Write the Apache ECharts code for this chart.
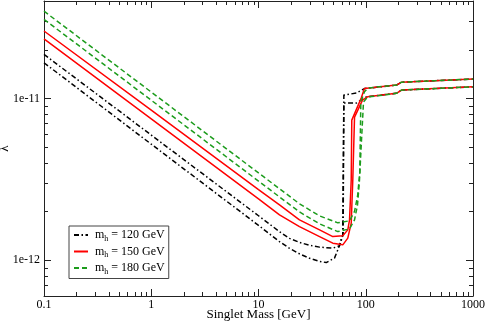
<!DOCTYPE html>
<html>
<head>
<meta charset="utf-8">
<script src="https://cdn.jsdelivr.net/npm/echarts@6/dist/echarts.min.js"></script>
<style>
  html, body { margin: 0; padding: 0; background: #fff; }
  #chart { width: 487px; height: 324px; }
</style>
</head>
<body>
<div id="chart"></div>
<script>
// axis ticks
const xTicks = [0.1, 1, 10, 100, 1000];
const xTickText = ['0.1', '1', '10', '100', '1000'];
const yTicks = [1e-12, 1e-11];
const yTickText = ['1e-12', '1e-11'];

// legend entries (Higgs mass, GeV)
const higgsMasses = ['120', '150', '180'];

// m_h = 120 GeV
const blackUpperMass = [0.1, 1, 10, 15.7, 19.45, 24.1, 29.9, 37.1, 49.3, 56.9, 58.7, 61, 62.5, 82, 97.3, 193.5, 215.4, 1000];
const blackUpperLambda = [1.87e-11, 5.93e-12, 1.88e-12, 1.50e-12, 1.363e-12, 1.288e-12, 1.234e-12, 1.203e-12, 1.186e-12, 1.224e-12, 1.335e-12, 1.42e-12, 1.048e-11, 1.079e-11, 1.15e-11, 1.208e-11, 1.26e-11, 1.316e-11];
const blackLowerMass = [0.1, 1, 10, 15.7, 19.45, 24.1, 29.9, 37.1, 42.8, 51.1, 54.9, 59.4, 61.5, 62.5, 82, 101.6, 193.5, 215.4, 1000];
const blackLowerLambda = [1.66e-11, 5.21e-12, 1.64e-12, 1.30e-12, 1.183e-12, 1.094e-12, 1.026e-12, 9.83e-13, 9.66e-13, 1.029e-12, 1.158e-12, 1.335e-12, 1.45e-12, 9.35e-12, 9.35e-12, 1.023e-11, 1.074e-11, 1.125e-11, 1.179e-11];

// m_h = 150 GeV
const redUpperMass = [0.1, 1, 10, 15.7, 24.1, 37.1, 49.3, 61.1, 68.0, 70.6, 73.2, 74.1, 90.7, 97.3, 193.5, 215.4, 1000];
const redUpperLambda = [2.61e-11, 8.45e-12, 2.73e-12, 2.195e-12, 1.774e-12, 1.538e-12, 1.398e-12, 1.413e-12, 1.538e-12, 1.774e-12, 3.13e-12, 7.34e-12, 1.004e-11, 1.15e-11, 1.208e-11, 1.26e-11, 1.316e-11];
const redLowerMass = [0.1, 1, 10, 15.7, 24.1, 37.1, 49.3, 61.1, 68.0, 73.2, 75.7, 78.6, 93.3, 103.8, 193.5, 215.4, 1000];
const redLowerLambda = [2.33e-11, 7.46e-12, 2.39e-12, 1.904e-12, 1.612e-12, 1.398e-12, 1.273e-12, 1.243e-12, 1.367e-12, 1.692e-12, 3.13e-12, 7.66e-12, 9.76e-12, 1.023e-11, 1.074e-11, 1.125e-11, 1.179e-11];

// m_h = 180 GeV
const greenUpperMass = [0.1, 1, 10, 24.1, 37.1, 54.9, 70.6, 78.6, 84, 88, 90, 97.3, 105, 193.5, 215.4, 1000];
const greenUpperLambda = [3.46e-11, 1.094e-11, 3.46e-12, 2.23e-12, 1.877e-12, 1.70e-12, 1.75e-12, 2.0e-12, 2.5e-12, 3.5e-12, 9.5e-12, 1.1e-11, 1.16e-11, 1.208e-11, 1.26e-11, 1.316e-11];
const greenLowerMass = [0.1, 1, 10, 24.1, 37.1, 54.9, 70.6, 78.6, 83.8, 87.4, 91.3, 95.3, 103.8, 193.5, 215.4, 1000];
const greenLowerLambda = [3.08e-11, 9.74e-12, 3.08e-12, 1.986e-12, 1.675e-12, 1.501e-12, 1.56e-12, 1.774e-12, 2.195e-12, 3.13e-12, 5.53e-12, 9.49e-12, 1.02e-11, 1.074e-11, 1.125e-11, 1.179e-11];

const xMin = 0.1, xMax = 1000;
const yMin = 6e-13, yMax = 4e-11;

const FONT = 'Liberation Serif';
const AXIS_COLOR = '#222';
const BLACK = '#000000';
const RED = '#ff0000';
const GREEN = '#1c9c1c';
const DASH_DOT = [5, 2.5, 1.5, 2.5];
const DASHED = [5, 3];

function pairs(xs, ys) {
  return xs.map((x, i) => [x, ys[i]]);
}

function tickText(ticks, texts, v) {
  for (let i = 0; i < ticks.length; i++) {
    if (Math.abs(Math.log10(v) - Math.log10(ticks[i])) < 1e-6) return texts[i];
  }
  return '';
}

function makeSeries(name, xs, ys, color, type) {
  return {
    name: name,
    type: 'line',
    data: pairs(xs, ys),
    symbol: 'none',
    showSymbol: false,
    silent: true,
    lineStyle: { color: color, width: 1.5, type: type },
    itemStyle: { color: color },
    emphasis: { disabled: true }
  };
}

const chartDom = document.getElementById('chart');
const chart = echarts.init(chartDom);

function logAxis(min, max, extra) {
  return Object.assign({
    type: 'log',
    logBase: 10,
    min: min,
    max: max,
    nameMoveOverlap: false,
    axisLine: { show: true, onZero: false, lineStyle: { color: AXIS_COLOR, width: 1 } },
    axisTick: { show: true, inside: true, length: 7, lineStyle: { color: AXIS_COLOR, width: 1 } },
    splitLine: { show: false },
    minorTick: { show: false }
  }, extra);
}

const option = {
  animation: false,
  backgroundColor: '#fff',
  grid: { left: 44, right: 14, top: 1, bottom: 28, containLabel: false, outerBoundsMode: 'none' },
  legend: {
    orient: 'vertical',
    left: 69,
    top: 226,
    data: higgsMasses,
    selectedMode: false,
    backgroundColor: '#fff',
    borderColor: '#444',
    borderWidth: 1,
    borderRadius: 0,
    padding: [3, 4, 3, 4],
    itemGap: 3,
    itemWidth: 14,
    itemHeight: 10,
    itemStyle: { color: 'rgba(0,0,0,0)', borderColor: 'rgba(0,0,0,0)', borderWidth: 0 },
    formatter: (name) => '{m|m}{h|h}{t| = ' + name + ' GeV}',
    textStyle: {
      fontFamily: FONT,
      fontSize: 12,
      color: '#000',
      padding: [0, 0, 0, 2],
      rich: {
        m: { fontFamily: FONT, fontSize: 12, color: '#000' },
        h: { fontFamily: FONT, fontSize: 8, color: '#000', padding: [7, 0, 0, 0] },
        t: { fontFamily: FONT, fontSize: 12, color: '#000' }
      }
    }
  },
  xAxis: [
    logAxis(xMin, xMax, {
      position: 'bottom',
      name: 'Singlet Mass [GeV]',
      nameLocation: 'middle',
      nameGap: 12,
      nameTextStyle: { fontFamily: FONT, fontSize: 13, color: '#000' },
      axisLabel: {
        margin: 3,
        fontFamily: FONT,
        fontSize: 12,
        color: '#000',
        formatter: (v) => tickText(xTicks, xTickText, v)
      }
    }),
    logAxis(xMin, xMax, { position: 'top', axisLabel: { show: false } })
  ],
  yAxis: [
    logAxis(yMin, yMax, {
      position: 'left',
      name: 'λ',
      nameLocation: 'middle',
      nameGap: 33,
      nameRotate: 90,
      nameTextStyle: { fontFamily: FONT, fontSize: 13, color: '#000' },
      axisLabel: {
        margin: 4,
        fontFamily: FONT,
        fontSize: 12,
        color: '#000',
        showMinLabel: false,
        showMaxLabel: false,
        formatter: (v) => tickText(yTicks, yTickText, v)
      }
    }),
    logAxis(yMin, yMax, { position: 'right', axisLabel: { show: false } })
  ],
  series: [
    makeSeries('120', blackUpperMass, blackUpperLambda, BLACK, DASH_DOT),
    makeSeries('120', blackLowerMass, blackLowerLambda, BLACK, DASH_DOT),
    makeSeries('150', redUpperMass, redUpperLambda, RED, 'solid'),
    makeSeries('150', redLowerMass, redLowerLambda, RED, 'solid'),
    makeSeries('180', greenUpperMass, greenUpperLambda, GREEN, DASHED),
    makeSeries('180', greenLowerMass, greenLowerLambda, GREEN, DASHED)
  ]
};

chart.setOption(option);

// minor ticks at 2..9 of every decade, placed through the axes' own scales
function minorValues(min, max) {
  const out = [];
  for (let e = Math.floor(Math.log10(min)); e <= Math.ceil(Math.log10(max)); e++) {
    for (let k = 2; k <= 9; k++) {
      const v = k * Math.pow(10, e);
      if (v > min * 1.0001 && v < max * 0.9999) out.push(v);
    }
  }
  return out;
}

const grid = chart.getModel().getComponent('grid', 0).coordinateSystem.getRect();
const gx0 = grid.x, gx1 = grid.x + grid.width, gy0 = grid.y, gy1 = grid.y + grid.height;
const minorLen = 4;
const ticks = [];
const tickStyle = { stroke: AXIS_COLOR, lineWidth: 1 };

minorValues(xMin, xMax).forEach((v) => {
  const px = Math.round(chart.convertToPixel({ xAxisIndex: 0 }, v)) + 0.5;
  ticks.push({ type: 'line', silent: true, shape: { x1: px, y1: gy1, x2: px, y2: gy1 - minorLen }, style: tickStyle });
  ticks.push({ type: 'line', silent: true, shape: { x1: px, y1: gy0, x2: px, y2: gy0 + minorLen }, style: tickStyle });
});
minorValues(yMin, yMax).forEach((v) => {
  const py = Math.round(chart.convertToPixel({ yAxisIndex: 0 }, v)) + 0.5;
  ticks.push({ type: 'line', silent: true, shape: { x1: gx0, y1: py, x2: gx0 + minorLen, y2: py }, style: tickStyle });
  ticks.push({ type: 'line', silent: true, shape: { x1: gx1, y1: py, x2: gx1 - minorLen, y2: py }, style: tickStyle });
});

chart.setOption({ graphic: ticks });
</script>
</body>
</html>
